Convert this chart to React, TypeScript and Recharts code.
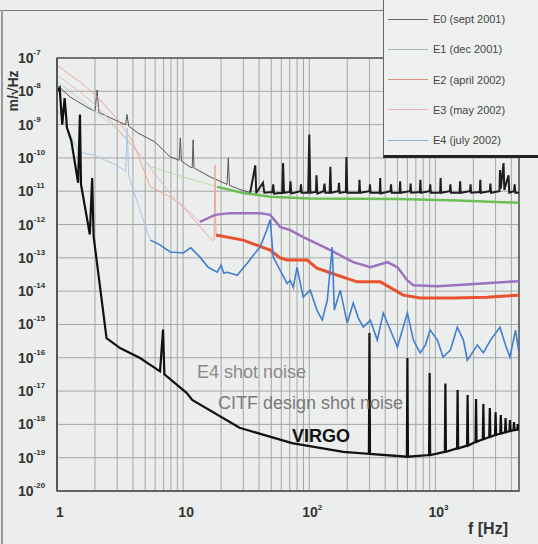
import React from 'react';
import { LineChart, Line, XAxis, YAxis, CartesianGrid, ReferenceArea } from 'recharts';

// frequency ticks (Hz) and displacement decades (m/rtHz)
const freqTicks = [1, 2, 3, 4, 5, 6, 7, 8, 9, 10, 20, 30, 40, 50, 60, 70, 80, 90, 100, 200, 300, 400, 500, 600, 700, 800, 900, 1000, 2000, 3000, 4000];
const freqLabels: Record<number, string> = { 1: '1', 10: '10', 100: '10|2', 1000: '10|3' };
const ampTicks = [1e-20, 1e-19, 1e-18, 1e-17, 1e-16, 1e-15, 1e-14, 1e-13, 1e-12, 1e-11, 1e-10, 1e-9, 1e-8, 1e-7];
const minorSteps = [2, 3, 4, 5, 6, 7, 8, 9];
const ampMinorTicks = ampTicks.slice(0, -1).flatMap(d => minorSteps.map(m => m * d));

// [frequency, amplitude]; "low" = faint low-frequency part, "high" = dense part
const e0Low = [
    [1.0, 1.55e-8], [1.27, 6.8e-9], [1.76, 3.2e-9], [2.0, 2.5e-9], [2.08, 1.1e-8], [2.15, 2.3e-9],
    [2.4, 1.9e-9], [3.28, 1.1e-9], [3.5, 1.0e-9], [3.59, 2.0e-9], [3.7, 9e-10], [4.39, 5.6e-10],
    [6.0, 3.0e-10], [7.9, 1.07e-10], [9.3, 8.5e-11], [9.5, 4.0e-10], [9.7, 8e-11], [11.3, 5.4e-11],
    [11.8, 5e-11], [12.0, 3.5e-10], [12.2, 5e-11], [16.4, 2.7e-11], [22.3, 1.6e-11], [22.8, 1.0e-10],
    [23.3, 1.5e-11], [27, 1.2e-11], [34, 9e-12],
];
const e0High = [
    [34, 9e-12], [37.3, 6e-11], [38, 9e-12], [43, 1.8e-11], [44, 9e-12],
    [51, 9.5e-12], [51.8, 1.6e-11], [52.5, 8.5e-12], [61, 9e-12], [62, 7e-11], [63, 9e-12],
    [70, 9.5e-12], [71, 2e-11], [72, 8.5e-12], [85, 1e-11], [86, 1.6e-11], [87, 9e-12],
    [98, 9e-12], [100, 5e-10], [102, 9e-12],
    [113, 9.5e-12], [114, 3e-11], [116, 8.5e-12], [130, 1e-11], [132, 1.7e-11], [134, 9e-12],
    [145, 9e-12], [147, 5.4e-11], [149, 9e-12], [170, 1e-11], [172, 1.8e-11], [174, 9e-12],
    [195, 9.5e-12], [197, 1.07e-10], [200, 9e-12], [248, 9e-12], [250, 2.2e-11], [253, 9e-12],
    [300, 1e-11], [303, 1.6e-11], [306, 9e-12],
    [362, 9e-12], [365, 2.5e-11], [368, 8.5e-12], [440, 1e-11], [445, 1.6e-11], [450, 9e-12],
    [520, 9e-12], [525, 2e-11], [530, 9e-12], [630, 1e-11], [636, 1.7e-11], [642, 9e-12],
    [752, 9.5e-12], [760, 2.2e-11], [768, 9e-12], [900, 1e-11], [910, 1.6e-11], [920, 9e-12],
    [1090, 9e-12], [1100, 2.5e-11], [1110, 9e-12], [1300, 1e-11], [1315, 1.6e-11], [1330, 9e-12],
    [1555, 9e-12], [1570, 2e-11], [1585, 9e-12], [1880, 1e-11], [1900, 1.6e-11], [1920, 9e-12],
    [2250, 9.5e-12], [2270, 2.2e-11], [2290, 9e-12], [2700, 1e-11], [2730, 1.7e-11], [2760, 9e-12],
    [3220, 1e-11], [3250, 4.3e-11], [3300, 1.2e-11], [3470, 7e-11], [3520, 1.1e-11],
    [3800, 3e-11], [3850, 9e-12], [4200, 1e-11], [4250, 1.6e-11], [4300, 9e-12], [4600, 9e-12],
];

const e1Low = [
    [1.0, 2e-8], [1.5, 6e-9], [2.0, 2.5e-9], [3.0, 7e-10], [4.0, 2.2e-10], [5.5, 5.4e-11],
    [10, 2.7e-11], [18.6, 1.35e-11],
];
const e1High = [
    [18.6, 1.35e-11], [30, 8.9e-12], [49, 6.8e-12], [100, 6e-12], [500, 5.8e-12],
    [1500, 5.3e-12], [4600, 4.5e-12],
];

const e2Low = [
    [1.0, 6e-8], [1.5, 2e-8], [2.0, 8e-9], [3.0, 1.5e-9], [4.0, 3e-10], [5.5, 1.35e-11],
    [7.9, 6.8e-12], [10, 3.4e-12], [14.4, 6.8e-13], [17, 3.4e-13], [17.6, 3.4e-13], [17.9, 6.2e-11],
    [18.2, 4.8e-13],
];
const e2High = [
    [18.2, 4.8e-13], [18.6, 4.8e-13], [29.9, 3.4e-13], [49, 1.7e-13], [58.7, 1e-13], [66.8, 8.6e-14],
    [96, 8.6e-14], [115, 4.9e-14], [167, 3e-14], [240, 1.9e-14], [366, 1.9e-14], [437, 1.3e-14],
    [555, 7.6e-15], [757, 6.2e-15], [1390, 6.2e-15], [2570, 6.6e-15], [4600, 7.6e-15],
];

const e3Low = [
    [1.0, 3e-8], [1.5, 1e-8], [2.0, 4e-9], [3.0, 8e-10], [5.0, 8e-11], [8.0, 8e-12], [13.6, 1.2e-12],
];
const e3High = [
    [13.6, 1.2e-12], [17.9, 1.95e-12], [23.6, 2.2e-12], [40.8, 2.2e-12], [49, 1.95e-12],
    [58.7, 8.5e-13], [70.7, 6.8e-13], [89.5, 4.2e-13], [147, 1.7e-13], [223, 7.4e-14], [305, 5.2e-14],
    [417, 7.4e-14], [500, 5.2e-14], [600, 2.1e-14], [668, 1.5e-14], [1036, 1.4e-14], [1903, 1.6e-14],
    [4600, 2e-14],
];

const e4Low = [
    [1.0, 3e-9], [1.5, 1.5e-10], [2.0, 1.2e-10], [2.5, 8e-11], [3.0, 6e-11], [3.5, 4e-11],
    [3.6, 8e-10], [3.7, 3e-11], [4.5, 3e-12], [5.5, 3.4e-13],
];
const e4High = [
    [5.5, 3.4e-13], [6.5, 2.5e-13], [7.9, 1.5e-13], [10, 1.4e-13], [11.5, 2e-13], [13.6, 1.05e-13],
    [15.8, 5.2e-14], [18.6, 3.7e-14], [20, 6e-14], [21, 3.5e-14], [22.4, 3.7e-14], [26.8, 3e-14],
    [32.2, 6.9e-14], [36, 1.2e-13], [40.8, 2.1e-13], [46, 6.8e-13], [49, 1.4e-12], [51.8, 1.05e-13],
    [58.7, 4.3e-14], [66.7, 1.7e-14], [70.7, 2.1e-14], [74.7, 1.3e-14], [80, 5.2e-14], [89.5, 6.6e-15],
    [101.8, 1.07e-14], [115, 2.7e-15], [126.8, 1.35e-15], [139, 5.4e-15], [152, 2.1e-13], [158, 2.7e-15],
    [176, 1.07e-14], [200, 1.1e-15], [223, 4.4e-15], [245, 1.55e-15], [268, 8.3e-16], [305, 1.35e-15],
    [346, 3.4e-16], [386, 2.2e-15], [439, 6.8e-16], [500, 2.1e-16], [547, 6.8e-16], [600, 2.2e-15],
    [669, 3.4e-16], [757, 1.4e-16], [833, 2.4e-16], [908, 6.8e-16], [1037, 3.4e-16], [1150, 1.05e-16],
    [1315, 1.7e-16], [1490, 8.3e-16], [1668, 3.4e-16], [1790, 8.5e-17], [2154, 2.4e-16], [2400, 1.4e-16],
    [2733, 3.4e-16], [3250, 8.3e-16], [3594, 2.4e-16], [3900, 1.05e-16], [4315, 6.8e-16], [4600, 1.4e-16],
];

const virgo = [
    [1.0, 1.0e-8], [1.05, 1.26e-8], [1.1, 1.0e-9], [1.15, 6.3e-9], [1.2, 8e-10], [1.3, 3.2e-10],
    [1.47, 1.8e-11], [1.52, 2.0e-9], [1.55, 1.6e-11], [1.82, 5e-13], [1.9, 2.5e-11], [1.95, 4.5e-13],
    [2.47, 3.9e-16], [3.16, 1.95e-16], [4.55, 9.8e-17], [6.56, 3.9e-17], [6.93, 7e-16], [7.1, 3.2e-17],
    [10.7, 8.7e-18], [11.8, 5.4e-18], [28, 7.9e-19], [73, 2.75e-19], [186, 1.5e-19],
    [297, 1.3e-19], [300, 5.5e-16], [303, 1.3e-19],
    [594, 1.07e-19], [600, 9.8e-17], [606, 1.07e-19],
    [891, 1.2e-19], [900, 3.5e-17], [909, 1.2e-19],
    [1188, 1.5e-19], [1200, 1.7e-17], [1212, 1.5e-19],
    [1485, 1.9e-19], [1500, 1.07e-17], [1515, 1.9e-19],
    [1782, 2.3e-19], [1800, 7.6e-18], [1818, 2.3e-19],
    [2079, 3e-19], [2100, 5.8e-18], [2121, 3e-19],
    [2376, 3.6e-19], [2400, 4.1e-18], [2424, 3.6e-19],
    [2673, 4.2e-19], [2700, 3.1e-18], [2727, 4.2e-19],
    [2970, 4.8e-19], [3000, 2.3e-18], [3030, 4.8e-19],
    [3267, 5.3e-19], [3300, 1.9e-18], [3333, 5.3e-19],
    [3564, 5.8e-19], [3600, 1.55e-18], [3636, 5.8e-19],
    [3861, 6.3e-19], [3900, 1.35e-18], [3939, 6.3e-19],
    [4158, 6.7e-19], [4200, 1.17e-18], [4242, 6.7e-19],
    [4455, 7e-19], [4500, 1.02e-18], [4545, 7e-19], [4600, 7.1e-19],
];

const series = [
    { name: 'E0 (sept 2001)', low: e0Low, high: e0High, color: '#1e1e1e', faint: '#555', width: 2, legend: '#666' },
    { name: 'E1 (dec 2001)', low: e1Low, high: e1High, color: '#6cbf55', faint: '#b8dcb0', width: 2.5, legend: '#a8b8a8' },
    { name: 'E2 (april 2002)', low: e2Low, high: e2High, color: '#e8522e', faint: '#f0a898', width: 3, legend: '#d89080' },
    { name: 'E3 (may 2002)', low: e3Low, high: e3High, color: '#9a72c0', faint: '#e2b8c8', width: 2.5, legend: '#e8b0b8' },
    { name: 'E4 (july 2002)', low: e4Low, high: e4High, color: '#3f7fd0', faint: '#a8c4e8', width: 1.6, legend: '#90b0d8' },
];

const toRows = (pts: number[][]) => pts.map(([f, v]) => ({ f, v }));

const FreqTick = (props: any) => {
    const { x, y, payload } = props;
    const lbl = freqLabels[payload.value];
    if (!lbl) return null;
    const [base, exp] = lbl.split('|');
    return (
        <text x={x + 3} y={y + 18} textAnchor="middle" fontSize={14} fontWeight="bold" fill="#333">
            {base}
            {exp && <tspan dy={-7} fontSize={8}>{exp}</tspan>}
        </text>
    );
};

const AmpTick = (props: any) => {
    const { x, y, payload } = props;
    const exp = Math.round(Math.log10(payload.value));
    return (
        <text x={x - 31} y={y + 5} fontSize={14} fontWeight="bold" fill="#333">
            10<tspan dy={-8} fontSize={8}>{exp}</tspan>
        </text>
    );
};

export default function App() {
    return (
        <div style={{ position: 'absolute', left: 0, top: 0, width: 538, height: 544, background: '#eceeed', overflow: 'hidden', fontFamily: '"Liberation Sans", Arial, sans-serif' }}>
            <div style={{ position: 'absolute', left: 0, top: 10, width: 538, height: 1, background: '#777' }} />
            <div style={{ position: 'absolute', left: 1, top: 10, width: 2, height: 534, background: '#999' }} />
            <LineChart width={538} height={544} margin={{ top: 58, right: 19, bottom: 23, left: 0 }}>
                <CartesianGrid stroke="#a4a7a5" strokeWidth={1} />
                <XAxis dataKey="f" type="number" scale="log" domain={[1, 4600]} allowDataOverflow ticks={freqTicks} interval={0}
                    height={30} tick={<FreqTick />} tickLine={false} axisLine={{ stroke: '#555' }} />
                <YAxis dataKey="v" type="number" scale="log" domain={[1e-20, 1e-7]} allowDataOverflow ticks={ampTicks} interval={0}
                    width={57} tick={<AmpTick />} tickLine={false} axisLine={{ stroke: '#555', strokeWidth: 2 }} />
                <YAxis yAxisId="minor" type="number" scale="log" domain={[1e-20, 1e-7]} allowDataOverflow ticks={ampMinorTicks} interval={0}
                    width={0} mirror tick={false} tickSize={5} axisLine={false} tickLine={{ stroke: '#777' }} />
                {series.map(s => (
                    <Line key={s.name + '-low'} data={toRows(s.low)} dataKey="v" stroke={s.faint} strokeWidth={1}
                        dot={false} isAnimationActive={false} />
                ))}
                {series.map(s => (
                    <Line key={s.name} data={toRows(s.high)} dataKey="v" stroke={s.color} strokeWidth={s.width}
                        dot={false} isAnimationActive={false} />
                ))}
                <Line data={toRows(virgo)} dataKey="v" stroke="#111" strokeWidth={2.2} dot={false} isAnimationActive={false} />
                <ReferenceArea x1={1} x2={4600} y1={1e-20} y2={1e-7} fill="none" stroke="#555" strokeWidth={1.5} />
            </LineChart>
            <div style={{ position: 'absolute', left: 3, top: 56, width: 20, height: 70, display: 'flex', alignItems: 'center', justifyContent: 'center' }}>
                <div style={{ transform: 'rotate(-90deg)', whiteSpace: 'nowrap', fontSize: 14, fontWeight: 'bold', color: '#333' }}>m/√Hz</div>
            </div>
            <div style={{ position: 'absolute', left: 468, top: 520, fontSize: 16, fontWeight: 'bold', color: '#333' }}>f [Hz]</div>
            <div style={{ position: 'absolute', left: 197, top: 362, fontSize: 18, color: '#8a8a8a' }}>E4 shot noise</div>
            <div style={{ position: 'absolute', left: 218, top: 393, fontSize: 18, color: '#7a7a7a' }}>CITF design shot noise</div>
            <div style={{ position: 'absolute', left: 292, top: 426, fontSize: 18, fontWeight: 'bold', color: '#111' }}>VIRGO</div>
            <div style={{ position: 'absolute', left: 383, top: 0, width: 160, height: 155, background: '#eef0ef', borderLeft: '1px solid #666', borderBottom: '3px solid #222' }}>
                {series.map((s, i) => (
                    <div key={s.name} style={{ position: 'absolute', left: 4, top: 13 + i * 30.3, display: 'flex', alignItems: 'center' }}>
                        <div style={{ width: 40, height: 1, background: s.legend }} />
                        <span style={{ marginLeft: 5, fontSize: 11, color: '#444' }}>{s.name}</span>
                    </div>
                ))}
            </div>
        </div>
    );
}
